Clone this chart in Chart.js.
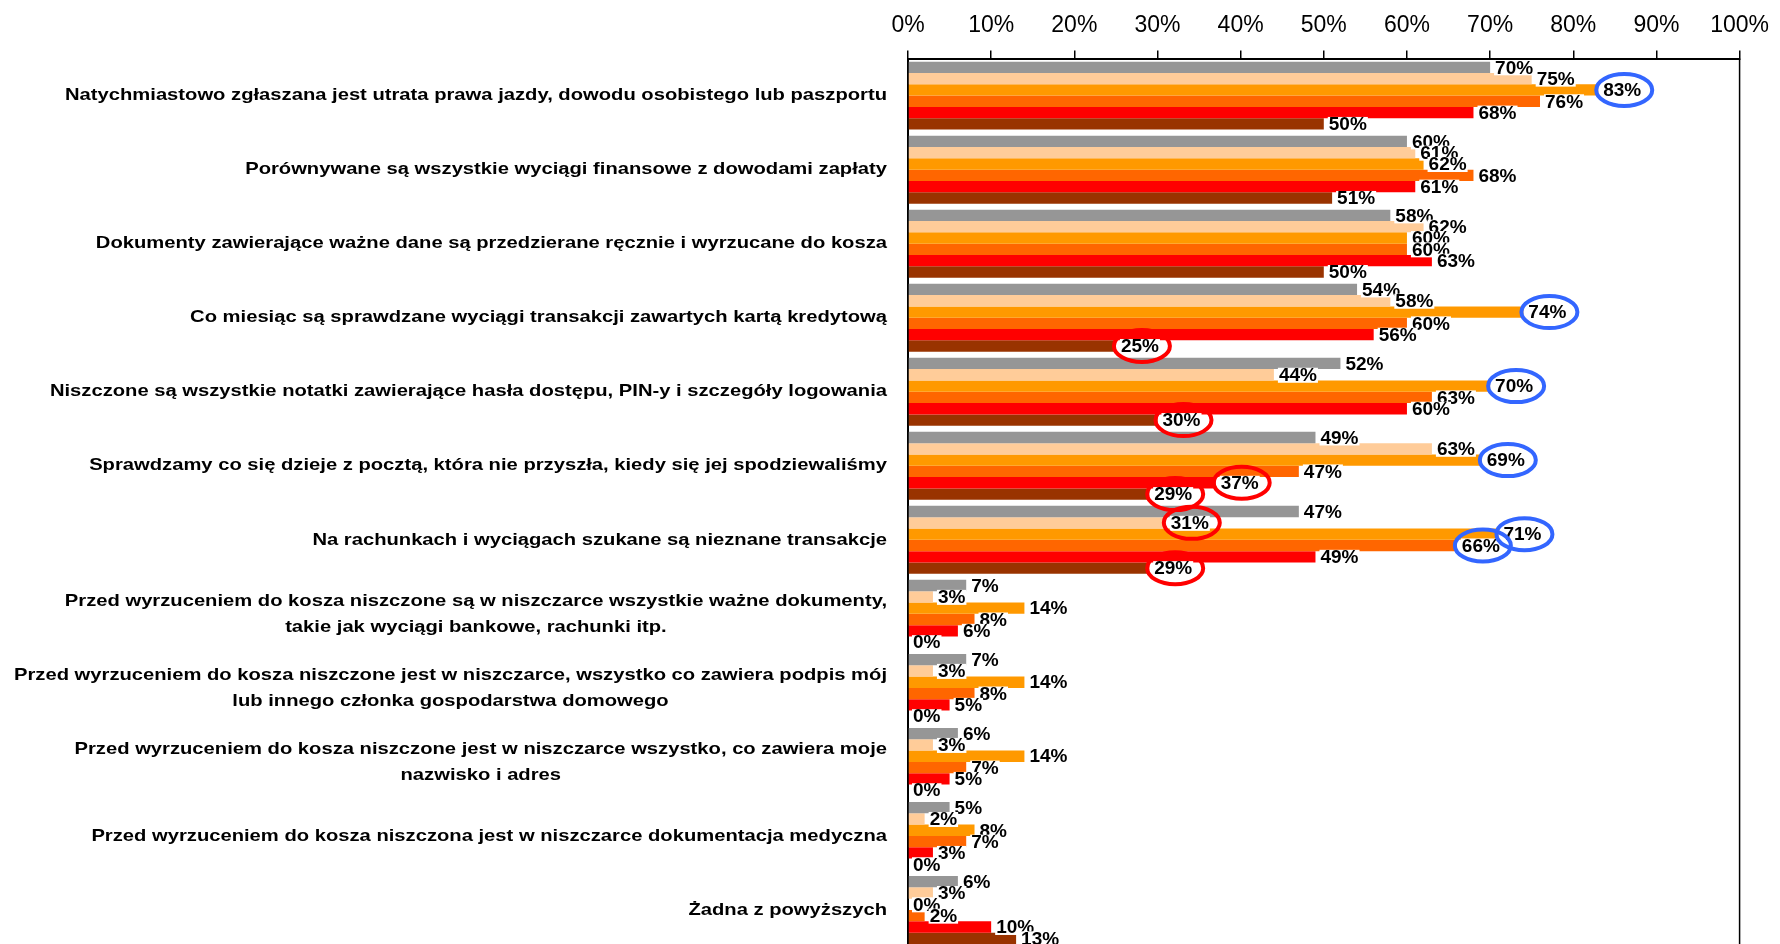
<!DOCTYPE html>
<html>
<head>
<meta charset="utf-8">
<script src="https://cdn.jsdelivr.net/npm/chart.js@4"></script>
<style>
html,body{margin:0;padding:0;background:#fff;overflow:hidden;}
#wrap{position:relative;width:1780px;height:960px;}
</style>
</head>
<body>
<div id="wrap"><canvas id="c"></canvas></div>
<script>
// ---- data ----
const categories = [
  "Natychmiastowo zgłaszana jest utrata prawa jazdy, dowodu osobistego lub paszportu",
  "Porównywane są wszystkie wyciągi finansowe z dowodami zapłaty",
  "Dokumenty zawierające ważne dane są przedzierane ręcznie i wyrzucane do kosza",
  "Co miesiąc są sprawdzane wyciągi transakcji zawartych kartą kredytową",
  "Niszczone są wszystkie notatki zawierające hasła dostępu, PIN-y i szczegóły logowania",
  "Sprawdzamy co się dzieje z pocztą, która nie przyszła, kiedy się jej spodziewaliśmy",
  "Na rachunkach i wyciągach szukane są nieznane transakcje",
  ["Przed wyrzuceniem do kosza niszczone są w niszczarce wszystkie ważne dokumenty,", "takie jak wyciągi bankowe, rachunki itp."],
  ["Przed wyrzuceniem do kosza niszczone jest w niszczarce, wszystko co zawiera podpis mój", "lub innego członka gospodarstwa domowego"],
  ["Przed wyrzuceniem do kosza niszczone jest w niszczarce wszystko, co zawiera moje", "nazwisko i adres"],
  "Przed wyrzuceniem do kosza niszczona jest w niszczarce dokumentacja medyczna",
  "Żadna z powyższych"
];
const seriesNames = ["Seria 1", "Seria 2", "Seria 3", "Seria 4", "Seria 5", "Seria 6"];
const series1 = [70, 60, 58, 54, 52, 49, 47, 7, 7, 6, 5, 6];
const series2 = [75, 61, 62, 58, 44, 63, 31, 3, 3, 3, 2, 3];
const series3 = [83, 62, 60, 74, 70, 69, 71, 14, 14, 14, 8, 0];
const series4 = [76, 68, 60, 60, 63, 47, 66, 8, 8, 7, 7, 2];
const series5 = [68, 61, 63, 56, 60, 37, 49, 6, 5, 5, 3, 10];
const series6 = [50, 51, 50, 25, 30, 29, 29, 0, 0, 0, 0, 13];
const tickValues = [0, 10, 20, 30, 40, 50, 60, 70, 80, 90, 100];
// highlighted labels: [category index, series index, ring colour]
const highlights = [
  [0, 2, 'blue'], [3, 2, 'blue'], [4, 2, 'blue'], [5, 2, 'blue'], [6, 2, 'blue'], [6, 3, 'blue'],
  [3, 5, 'red'], [4, 5, 'red'], [5, 4, 'red'], [5, 5, 'red'], [6, 1, 'red'], [6, 5, 'red']
];

// ---- styles ----
const FONT = '"Liberation Sans", Arial, Helvetica, sans-serif';
const colors = ['#969696', '#FFCC99', '#FF9900', '#FF6600', '#FF0000', '#993300'];
const ringColors = { blue: '#3366FF', red: '#FF0000' };
const allSeries = [series1, series2, series3, series4, series5, series6];

const labelsPlugin = {
  id: 'valueLabels',
  afterDatasetsDraw(chart) {
    const ctx = chart.ctx;
    ctx.save();
    ctx.font = 'bold 19px ' + FONT;
    ctx.textBaseline = 'middle';
    ctx.textAlign = 'left';
    const centers = {};
    chart.data.datasets.forEach((ds, di) => {
      const meta = chart.getDatasetMeta(di);
      meta.data.forEach((bar, i) => {
        const t = ds.data[i] + '%';
        const w = ctx.measureText(t).width;
        const x = bar.x + 5;
        const y = bar.y;
        ctx.fillStyle = '#fff';
        ctx.fillRect(x - 1, y - 7, w + 2, 15);
        ctx.fillStyle = '#000';
        ctx.fillText(t, x, y + 1);
        centers[i + '_' + di] = [x + w / 2, y];
      });
    });
    ctx.lineWidth = 4;
    highlights.forEach(([ci, si, col]) => {
      const c = centers[ci + '_' + si];
      if (!c) return;
      ctx.strokeStyle = ringColors[col];
      ctx.beginPath();
      ctx.ellipse(c[0] + 2, c[1], 28, 16, 0, 0, Math.PI * 2);
      ctx.stroke();
    });
    ctx.restore();
  },
  afterDraw(chart) {
    const ctx = chart.ctx;
    const area = chart.chartArea;
    const yScale = chart.scales.y;
    ctx.save();
    // right frame line
    ctx.strokeStyle = '#000';
    ctx.lineWidth = 1.5;
    ctx.beginPath();
    ctx.moveTo(area.right, area.top);
    ctx.lineTo(area.right, area.bottom + 20);
    ctx.stroke();
    // category labels
    ctx.font = 'bold 17px ' + FONT;
    ctx.fillStyle = '#000';
    ctx.textBaseline = 'middle';
    ctx.textAlign = 'center';
    const refW = ctx.measureText(categories[0]).width;
    const sx = 822 / refW;
    const rightEdge = area.left - 21;
    categories.forEach((lab, i) => {
      const lines = Array.isArray(lab) ? lab : [lab];
      const cy = yScale.getPixelForValue(i);
      const maxW = Math.max(...lines.map(l => ctx.measureText(l).width * sx));
      const cx = rightEdge - maxW / 2;
      lines.forEach((l, k) => {
        const ly = cy + (k - (lines.length - 1) / 2) * 26;
        ctx.save();
        ctx.translate(cx, ly);
        ctx.scale(sx, 1);
        ctx.fillText(l, 0, 0);
        ctx.restore();
      });
    });
    ctx.restore();
  }
};

new Chart(document.getElementById('c'), {
  type: 'bar',
  data: {
    labels: categories,
    datasets: allSeries.map((d, i) => ({
      label: seriesNames[i],
      data: d,
      backgroundColor: colors[i],
      borderWidth: 0,
      categoryPercentage: 0.918,
      barPercentage: 1.0
    }))
  },
  options: {
    indexAxis: 'y',
    responsive: true,
    maintainAspectRatio: false,
    animation: false,
    layout: { padding: { top: 1, right: 34, bottom: 13, left: 0 } },
    plugins: { legend: { display: false }, tooltip: { enabled: false } },
    scales: {
      x: {
        position: 'top',
        min: 0,
        max: 100,
        afterBuildTicks: s => { s.ticks = tickValues.map(v => ({ value: v })); },
        ticks: {
          callback: v => v + '%',
          font: { family: FONT, size: 23 },
          color: '#000',
          padding: 11,
          maxRotation: 0,
          autoSkip: false
        },
        grid: { drawOnChartArea: false, drawTicks: true, tickLength: 8, color: '#000', lineWidth: 1.5 },
        border: { display: true, color: '#000', width: 2 }
      },
      y: {
        type: 'category',
        ticks: { display: false },
        grid: { display: false, drawTicks: false },
        border: { display: true, color: '#000', width: 2 },
        afterFit: s => { s.width = 908; }
      }
    }
  },
  plugins: [labelsPlugin]
});
</script>
</body>
</html>
